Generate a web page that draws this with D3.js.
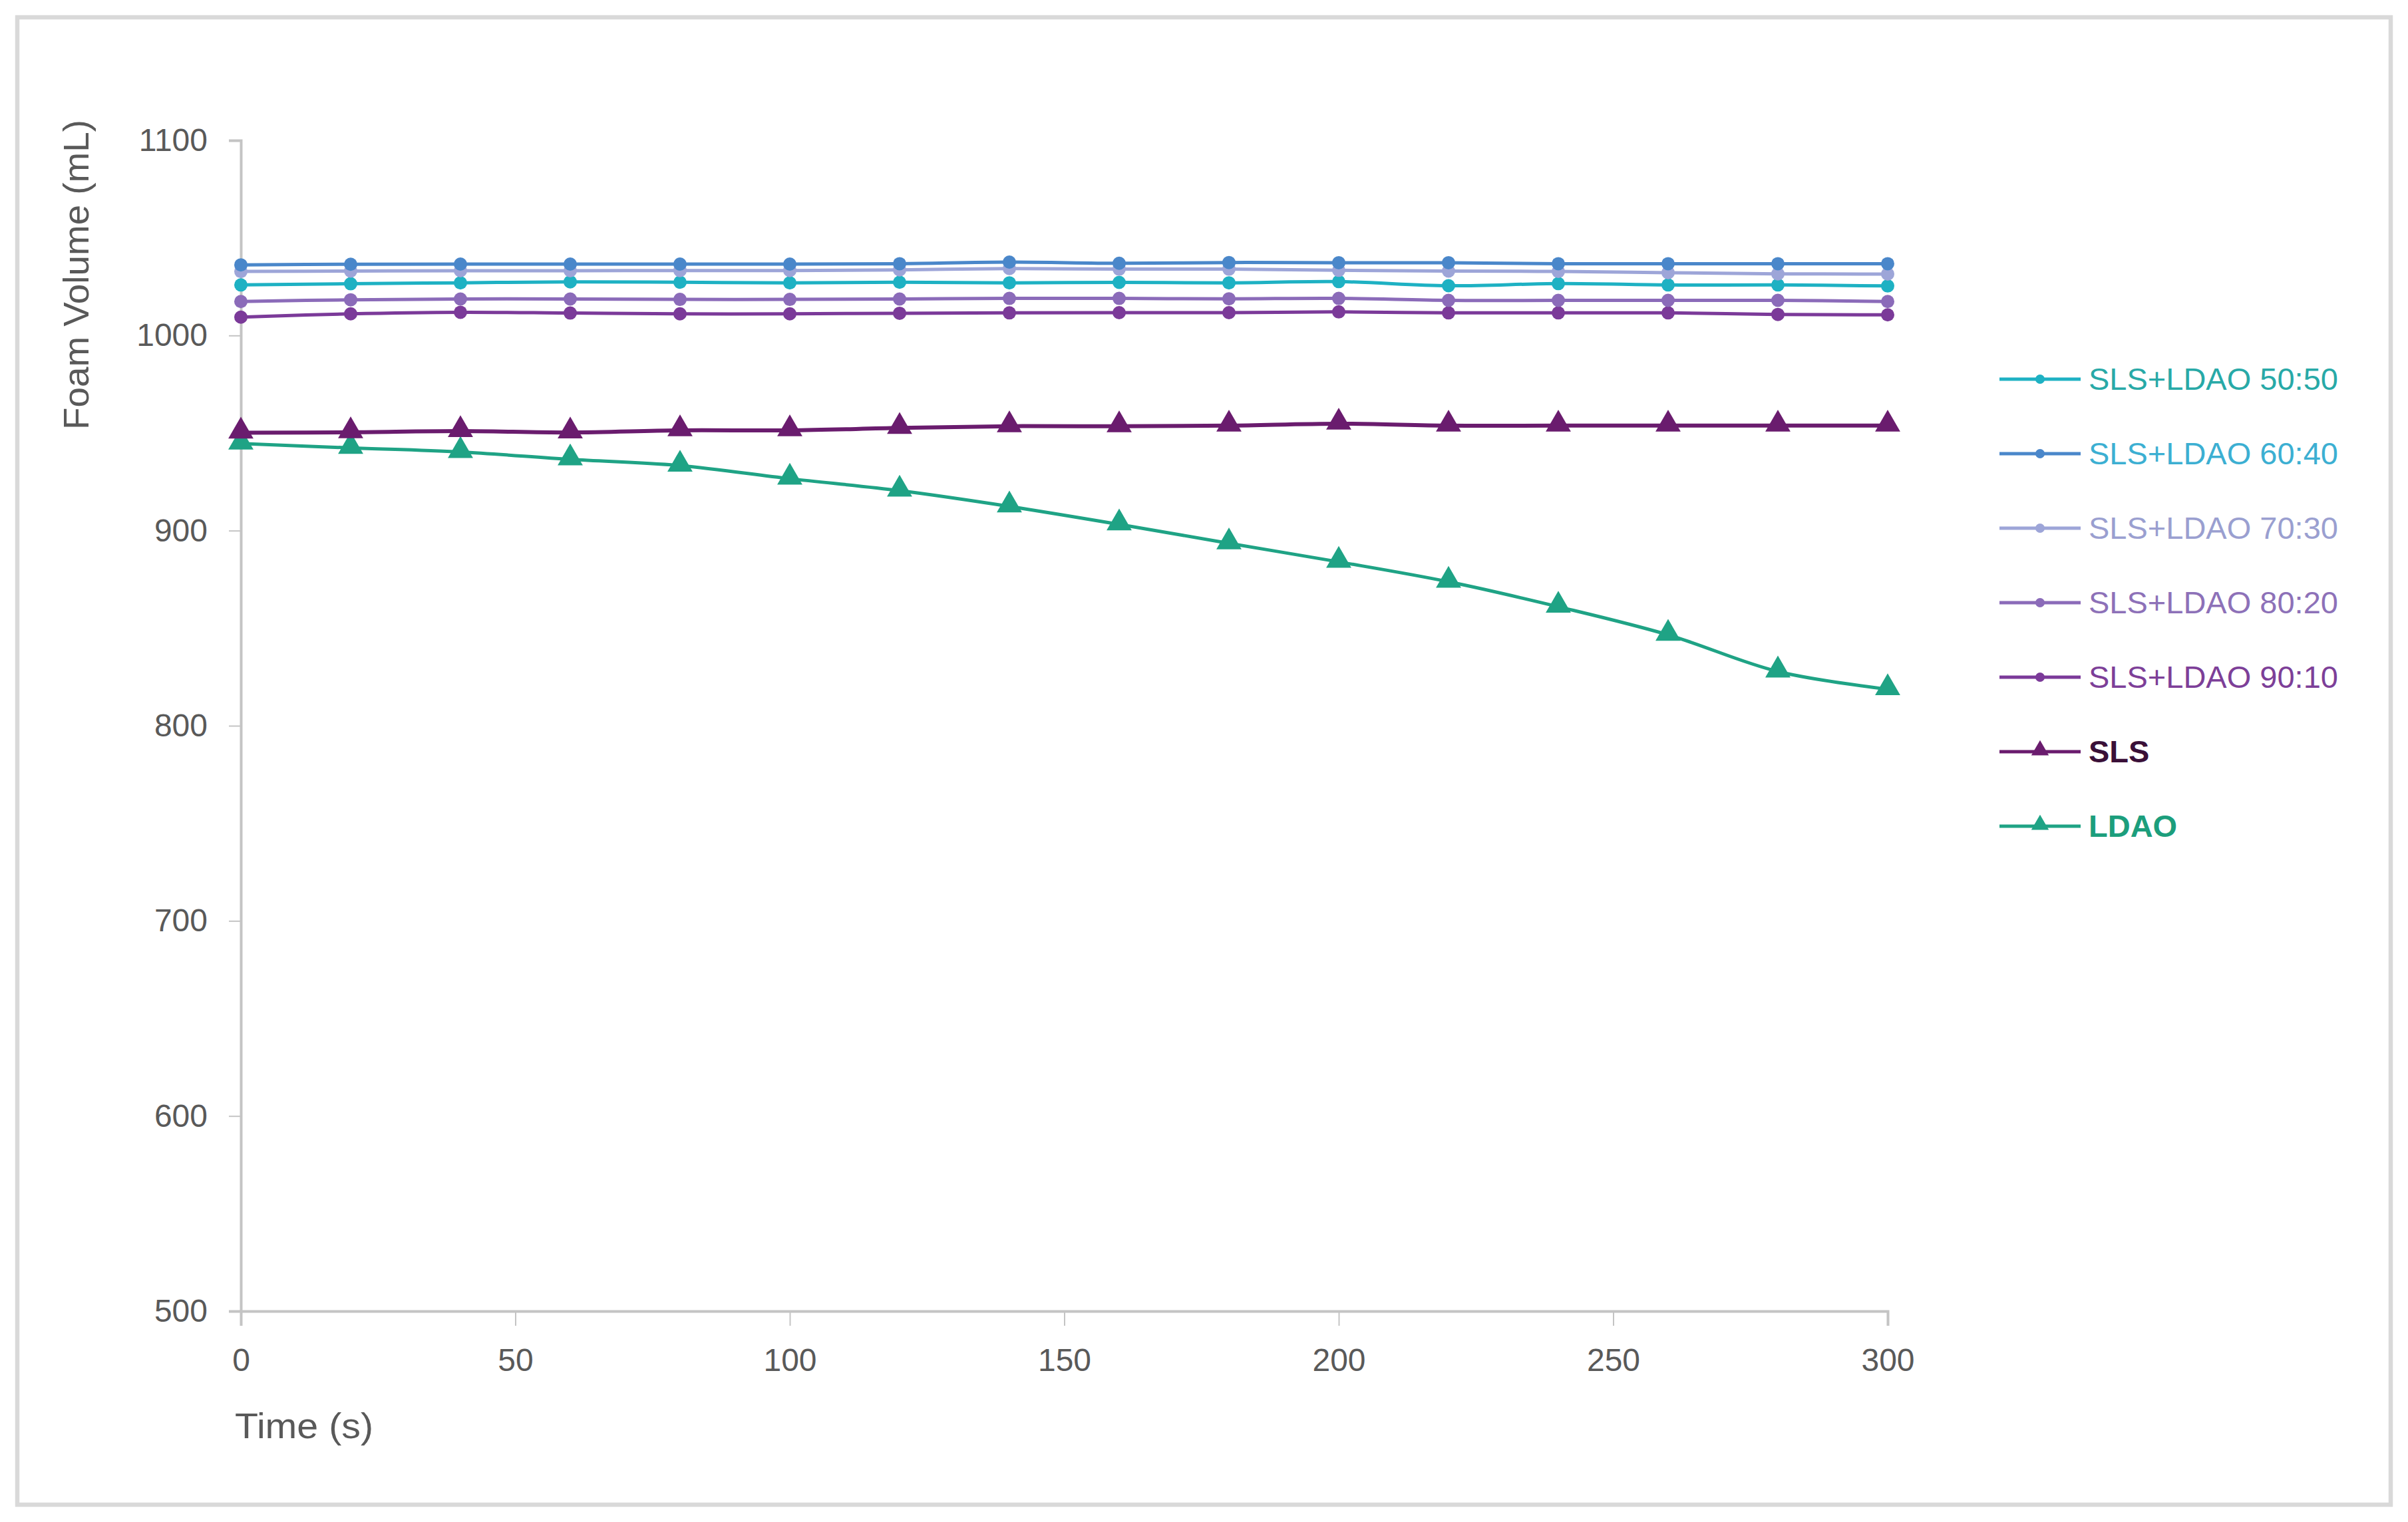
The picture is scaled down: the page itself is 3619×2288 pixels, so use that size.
<!DOCTYPE html>
<html>
<head>
<meta charset="utf-8">
<script src="https://cdn.jsdelivr.net/npm/d3@7"></script>
<style>
  html, body { margin: 0; padding: 0; background: #ffffff; }
  svg { display: block; }
</style>
</head>
<body>
<svg id="chart" width="3619" height="2288"></svg>
<script>
// ---------- data ----------
const times = [0, 20, 40, 60, 80, 100, 120, 140, 160, 180, 200, 220, 240, 260, 280, 300];
const seriesNames = ["SLS+LDAO 50:50", "SLS+LDAO 60:40", "SLS+LDAO 70:30", "SLS+LDAO 80:20", "SLS+LDAO 90:10", "SLS", "LDAO"];
const v5050 = [1025.9, 1026.5, 1027.0, 1027.5, 1027.3, 1027.0, 1027.3, 1027.0, 1027.2, 1027.0, 1027.6, 1025.5, 1026.6, 1025.9, 1025.9, 1025.4];
const v6040 = [1036.2, 1036.5, 1036.6, 1036.6, 1036.6, 1036.6, 1036.8, 1037.6, 1037.0, 1037.4, 1037.3, 1037.3, 1036.8, 1036.8, 1036.8, 1036.8];
const v7030 = [1032.8, 1033.0, 1033.2, 1033.2, 1033.3, 1033.3, 1033.6, 1034.3, 1034.0, 1034.0, 1033.4, 1033.0, 1032.8, 1032.2, 1031.6, 1031.5];
const v8020 = [1017.4, 1018.3, 1018.7, 1018.7, 1018.5, 1018.5, 1018.7, 1019.0, 1019.0, 1018.8, 1019.0, 1018.0, 1018.0, 1018.0, 1018.0, 1017.4];
const v9010 = [1009.4, 1011.1, 1011.9, 1011.5, 1011.1, 1011.1, 1011.4, 1011.6, 1011.7, 1011.7, 1012.1, 1011.6, 1011.6, 1011.6, 1010.8, 1010.6];
const vSLS  = [950.2, 950.4, 951.0, 950.3, 951.4, 951.4, 952.6, 953.5, 953.5, 953.8, 954.8, 953.8, 953.8, 953.8, 953.8, 953.8];
const vLDAO = [944.6, 942.4, 940.3, 936.5, 933.3, 926.6, 920.5, 912.4, 903.2, 893.5, 884.0, 873.8, 861.0, 846.6, 827.8, 818.7];
const xTicks = [0, 50, 100, 150, 200, 250, 300];
const yTicks = [500, 600, 700, 800, 900, 1000, 1100];
const lineColors   = ["#1EB1C3", "#4A87CA", "#9DA5D8", "#8B6BB9", "#7B3A99", "#6A1C6E", "#1FA385"];
const legendColors = ["#28A9A7", "#3CAFD2", "#9A9FD0", "#8D71B8", "#7D3F98", "#3A1038", "#1C9E7C"];
const markerShapes = ["circle", "circle", "circle", "circle", "circle", "triangle", "triangle"];
const xTitle = "Time (s)";
const yTitle = "Foam Volume (mL)";

const allValues = [v5050, v6040, v7030, v8020, v9010, vSLS, vLDAO];

// ---------- layout ----------
const svg = d3.select("#chart");
const W = 3619, H = 2288;
const plot = { left: 362, right: 2837, top: 211, bottom: 1971 };

// outer frame
svg.append("rect")
  .attr("x", 26).attr("y", 26)
  .attr("width", W - 52).attr("height", H - 52)
  .attr("fill", "#ffffff")
  .attr("stroke", "#d9d9d9").attr("stroke-width", 6.5);

const x = d3.scaleLinear().domain([0, 300]).range([plot.left, plot.right]);
const y = d3.scaleLinear().domain([500, 1100]).range([plot.bottom, plot.top]);

const fontFam = "'Liberation Sans', Arial, 'DejaVu Sans', sans-serif";

// y axis
const yAxis = svg.append("g")
  .attr("transform", `translate(${plot.left},0)`)
  .call(d3.axisLeft(y).tickValues(yTicks).tickSize(18).tickPadding(32).tickFormat(d3.format("d")));
yAxis.select(".domain").attr("stroke", "#c4c4c4").attr("stroke-width", 4);
yAxis.selectAll(".tick line").attr("stroke", "#c4c4c4").attr("stroke-width", 2);
yAxis.selectAll(".tick text")
  .attr("fill", "#595959").attr("font-size", 48).attr("font-family", fontFam);

// x axis
const xAxis = svg.append("g")
  .attr("transform", `translate(0,${plot.bottom})`)
  .call(d3.axisBottom(x).tickValues(xTicks).tickSize(22).tickPadding(34).tickFormat(d3.format("d")));
xAxis.select(".domain").attr("stroke", "#c4c4c4").attr("stroke-width", 4);
xAxis.selectAll(".tick line").attr("stroke", "#c4c4c4").attr("stroke-width", 2);
xAxis.selectAll(".tick text")
  .attr("fill", "#595959").attr("font-size", 48).attr("font-family", fontFam);

// axis titles
svg.append("text")
  .attr("x", 353).attr("y", 2162)
  .attr("font-size", 54).attr("font-family", fontFam)
  .attr("fill", "#595959")
  .attr("textLength", 208).attr("lengthAdjust", "spacingAndGlyphs")
  .text(xTitle);

svg.append("text")
  .attr("transform", "translate(133,413) rotate(-90)")
  .attr("text-anchor", "middle")
  .attr("font-size", 54).attr("font-family", fontFam)
  .attr("fill", "#595959")
  .attr("textLength", 466).attr("lengthAdjust", "spacingAndGlyphs")
  .text(yTitle);

// ---------- series ----------
const line = d3.line()
  .x(d => x(d.t))
  .y(d => y(d.v))
  .curve(d3.curveCatmullRom.alpha(0.5));

const triSym = d3.symbol().type(d3.symbolTriangle).size(620);

// draw from bottom-most to top-most so the lighter blues sit on top like the reference
const drawOrder = [6, 5, 4, 3, 0, 2, 1];
drawOrder.forEach(i => {
  const pts = times.map((t, k) => ({ t, v: allValues[i][k] }));
  const g = svg.append("g").attr("class", "series");
  g.append("path")
    .datum(pts)
    .attr("d", line)
    .attr("fill", "none")
    .attr("stroke", lineColors[i])
    .attr("stroke-width", i === 5 ? 6 : 5)
    .attr("stroke-linejoin", "round");
  if (markerShapes[i] === "circle") {
    g.selectAll("circle").data(pts).join("circle")
      .attr("cx", d => x(d.t)).attr("cy", d => y(d.v))
      .attr("r", 10).attr("fill", lineColors[i]);
  } else {
    g.selectAll("path.m").data(pts).join("path")
      .attr("class", "m")
      .attr("d", triSym)
      .attr("transform", d => `translate(${x(d.t)},${y(d.v) - 2})`)
      .attr("fill", lineColors[i]);
  }
});

// ---------- legend ----------
const legendTop = 570, legendStep = 112;
const lg = svg.append("g");
seriesNames.forEach((name, i) => {
  const cy = legendTop + i * legendStep;
  lg.append("line")
    .attr("x1", 3005).attr("x2", 3127).attr("y1", cy).attr("y2", cy)
    .attr("stroke", lineColors[i]).attr("stroke-width", 5);
  if (markerShapes[i] === "circle") {
    lg.append("circle").attr("cx", 3066).attr("cy", cy).attr("r", 7).attr("fill", lineColors[i]);
  } else {
    lg.append("path").attr("d", d3.symbol().type(d3.symbolTriangle).size(300))
      .attr("transform", `translate(3066,${cy - 2})`).attr("fill", lineColors[i]);
  }
  const bold = (name === "SLS" || name === "LDAO");
  lg.append("text")
    .attr("x", 3139).attr("y", cy)
    .attr("dy", "0.35em")
    .attr("font-size", 47)
    .attr("font-weight", bold ? "bold" : "normal")
    .attr("font-family", fontFam)
    .attr("fill", legendColors[i])
    .text(name);
});
</script>
</body>
</html>
